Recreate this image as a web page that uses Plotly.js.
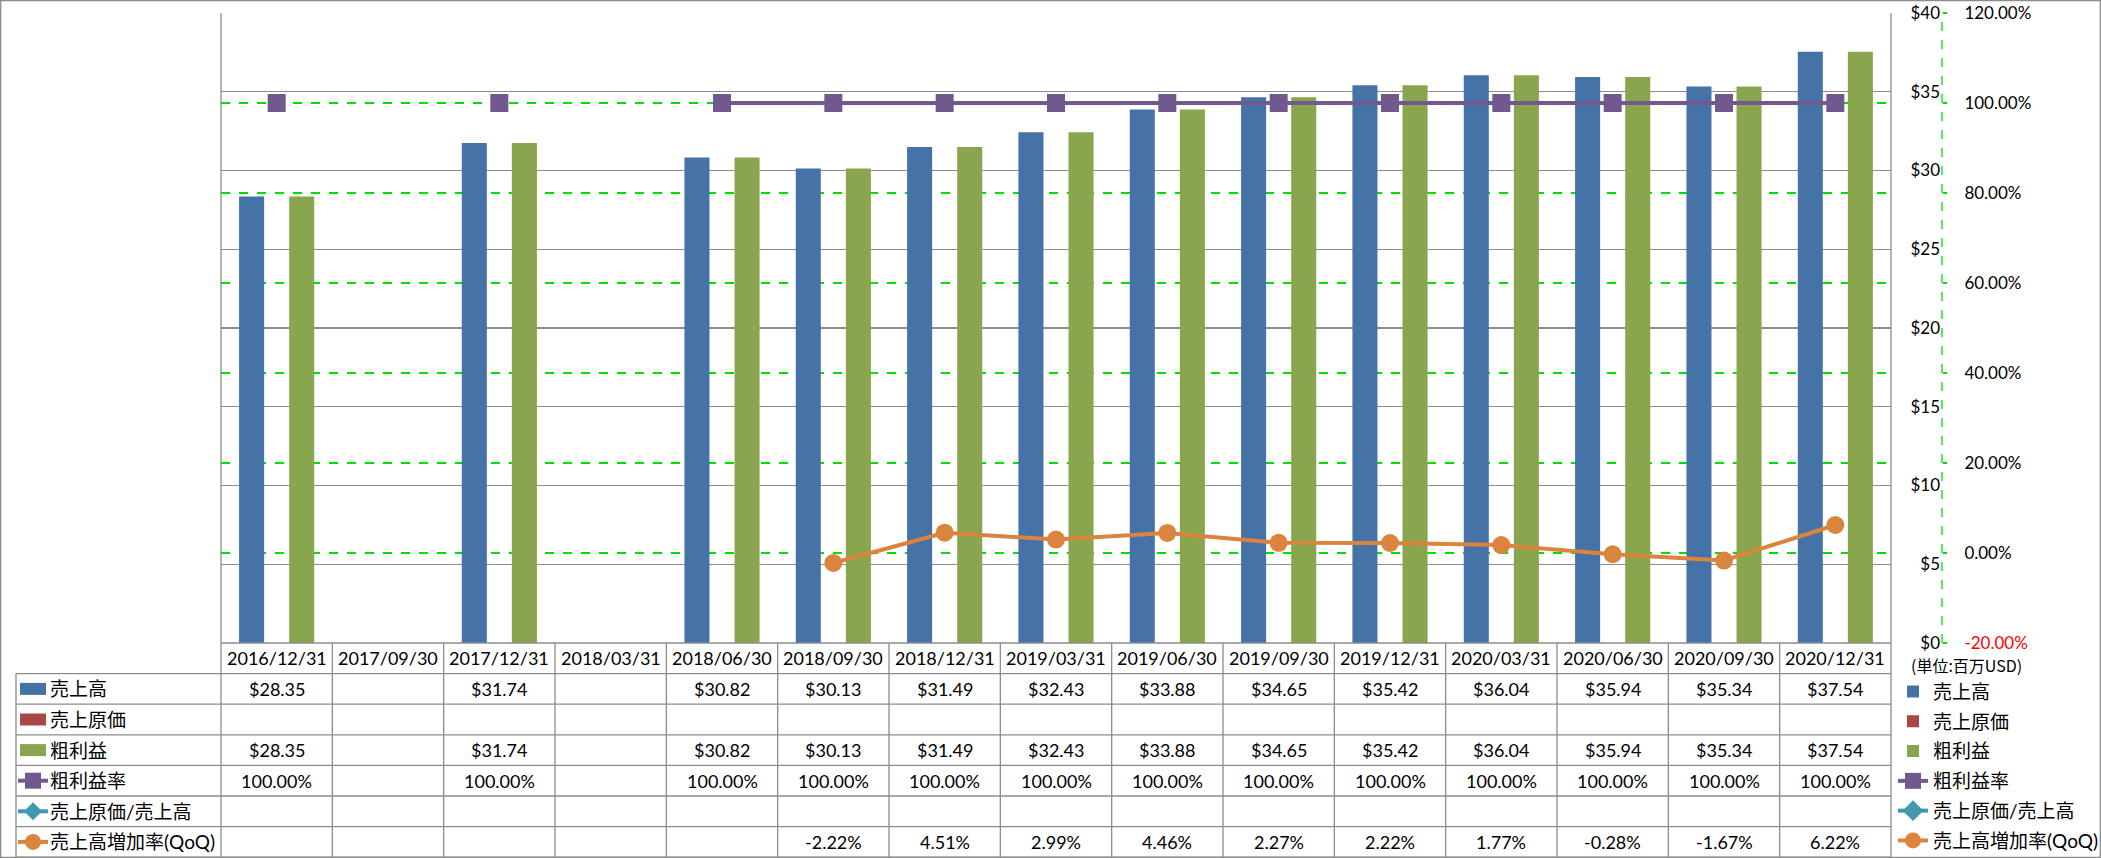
<!DOCTYPE html>
<html>
<head>
<meta charset="utf-8">
<script src="https://cdn.plot.ly/plotly-3.0.1.min.js"></script>
<style>
html,body{margin:0;padding:0;background:#fff;}
#chart{width:2101px;height:858px;}
</style>
</head>
<body>
<div id="chart"></div>
<script>
// ---------- DATA ----------
const categories = ["2016/12/31","2017/09/30","2017/12/31","2018/03/31","2018/06/30","2018/09/30","2018/12/31","2019/03/31","2019/06/30","2019/09/30","2019/12/31","2020/03/31","2020/06/30","2020/09/30","2020/12/31"];
const revenue      = [28.35, null, 31.74, null, 30.82, 30.13, 31.49, 32.43, 33.88, 34.65, 35.42, 36.04, 35.94, 35.34, 37.54];
const costOfSales  = [null, null, null, null, null, null, null, null, null, null, null, null, null, null, null];
const grossProfit  = [28.35, null, 31.74, null, 30.82, 30.13, 31.49, 32.43, 33.88, 34.65, 35.42, 36.04, 35.94, 35.34, 37.54];
const grossMargin  = [100, null, 100, null, 100, 100, 100, 100, 100, 100, 100, 100, 100, 100, 100];
const costRatio    = [null, null, null, null, null, null, null, null, null, null, null, null, null, null, null];
const revenueQoQ   = [null, null, null, null, null, -2.22, 4.51, 2.99, 4.46, 2.27, 2.22, 1.77, -0.28, -1.67, 6.22];
const usdTicks     = [0, 5, 10, 15, 20, 25, 30, 35, 40];
const pctTicks     = [-20, 0, 20, 40, 60, 80, 100, 120];
const seriesNames  = ["売上高", "売上原価", "粗利益", "粗利益率", "売上原価/売上高", "売上高増加率(QoQ)"];
const unitLabel    = "(単位:百万USD)";

// ---------- STYLE / GEOMETRY ----------
const W = 2101, H = 858;
const PL = 221, PT = 13, PW = 1670, PH = 630, MR = 10;
const paperW = W - PL - MR;
const domX = PW / paperW;
const px = v => (v - PL) / paperW;          // pixel x -> paper x
const py = v => (PT + PH - v) / PH;         // pixel y -> paper y
const axisX = px(1942);
const ROWH = 30.6;
const rowTop = k => PT + PH + k * ROWH;     // pixel y of row boundary k
const rowMid = k => py(rowTop(k) + ROWH / 2);

const colors = ["#4572A7", "#AA4643", "#89A54E", "#71588F", "#4198AF", "#DB843D"];
const gridGray = "#8c8c8c";
const green = "#00e000";
const FONT = 'Lato, "Noto Sans CJK JP", sans-serif';
const CJK = '"Noto Sans CJK JP", Lato, sans-serif';

// ---------- TRACES ----------
const barW = 0.225;
const traces = [
  {type:"bar", name:seriesNames[0], x:categories, y:revenue, yaxis:"y", width:barW, offset:-0.3375,
   marker:{color:colors[0]}, legendgroup:"a", hoverinfo:"skip"},
  {type:"bar", name:seriesNames[1], x:categories, y:costOfSales, yaxis:"y", width:barW, offset:-0.1125,
   marker:{color:colors[1]}, legendgroup:"b", hoverinfo:"skip"},
  {type:"bar", name:seriesNames[2], x:categories, y:grossProfit, yaxis:"y", width:barW, offset:0.1125,
   marker:{color:colors[2]}, legendgroup:"c", hoverinfo:"skip"},
  {type:"scatter", mode:"lines+markers", name:seriesNames[3], x:categories, y:grossMargin, yaxis:"y2",
   line:{color:colors[3], width:4}, marker:{symbol:"square", size:18, color:colors[3]},
   connectgaps:false, legendgroup:"d", hoverinfo:"skip", cliponaxis:false},
  {type:"scatter", mode:"lines+markers", name:seriesNames[4], x:categories, y:costRatio, yaxis:"y2",
   line:{color:colors[4], width:4}, marker:{symbol:"diamond", size:17, color:colors[4]},
   legendgroup:"e", hoverinfo:"skip"},
  {type:"scatter", mode:"lines+markers", name:seriesNames[5], x:categories, y:revenueQoQ, yaxis:"y2",
   line:{color:colors[5], width:4}, marker:{symbol:"circle", size:18, color:colors[5]},
   connectgaps:false, legendgroup:"f", hoverinfo:"skip", cliponaxis:false}
];

// ---------- TABLE (shapes + annotations) ----------
const shapes = [];
const annotations = [];
const lineStyle = {color:gridGray, width:1.3};
const bottomY = py(rowTop(7));

// outer border
shapes.push({type:"rect", xref:"paper", yref:"paper", x0:px(0.7), x1:px(W-0.7), y0:py(0.7), y1:py(H-0.7),
  line:{color:"#8c8c8c", width:1.3}, layer:"above"});
// plot left / right edges extending through table
shapes.push({type:"line", xref:"paper", yref:"paper", x0:0, x1:0, y0:1, y1:bottomY, line:lineStyle});
shapes.push({type:"line", xref:"paper", yref:"paper", x0:domX, x1:domX, y0:1, y1:bottomY, line:lineStyle});
// column separators inside table
for (let i = 0; i < categories.length - 1; i++) {
  shapes.push({type:"line", xref:"x", yref:"paper", x0:i + 0.5, x1:i + 0.5, y0:0, y1:bottomY, line:lineStyle});
}
// row-label column left edge
shapes.push({type:"line", xref:"paper", yref:"paper", x0:px(16), x1:px(16), y0:py(rowTop(1)), y1:bottomY, line:lineStyle});
// horizontal row lines
shapes.push({type:"line", xref:"paper", yref:"paper", x0:0, x1:domX, y0:0, y1:0, line:lineStyle});
for (let k = 1; k <= 7; k++) {
  shapes.push({type:"line", xref:"paper", yref:"paper", x0:px(16), x1:domX, y0:py(rowTop(k)), y1:py(rowTop(k)), line:lineStyle});
}
// secondary axis dashed line
shapes.push({type:"line", xref:"paper", yref:"paper", x0:axisX, x1:axisX, y0:0, y1:1,
  line:{color:green, width:1.3, dash:"dash"}});

// header categories
categories.forEach((c, i) => {
  annotations.push({xref:"x", yref:"paper", x:i, y:rowMid(0), text:c, showarrow:false,
    xanchor:"center", yanchor:"middle", font:{family:FONT, size:18, color:"#000"}});
});
// cell values
const rows = [
  {vals:revenue, fmt:v => "$" + v.toFixed(2)},
  {vals:costOfSales, fmt:v => "$" + v.toFixed(2)},
  {vals:grossProfit, fmt:v => "$" + v.toFixed(2)},
  {vals:grossMargin, fmt:v => v.toFixed(2) + "%"},
  {vals:costRatio, fmt:v => v.toFixed(2) + "%"},
  {vals:revenueQoQ, fmt:v => v.toFixed(2) + "%"}
];
rows.forEach((r, k) => {
  r.vals.forEach((v, i) => {
    if (v === null) return;
    annotations.push({xref:"x", yref:"paper", x:i, y:rowMid(k + 1), text:r.fmt(v), showarrow:false,
      xanchor:"center", yanchor:"middle", font:{family:FONT, size:18, color:"#000"}});
  });
  // row header label
  annotations.push({xref:"paper", yref:"paper", x:px(48), y:rowMid(k + 1), text:seriesNames[k], showarrow:false,
    xanchor:"left", yanchor:"middle", font:{family:FONT, size:19, color:"#000"}});
  // row header icon
  const cy = rowTop(k + 1) + ROWH / 2;
  if (k < 3) {
    shapes.push({type:"rect", xref:"paper", yref:"paper", x0:px(20), x1:px(46), y0:py(cy - 6), y1:py(cy + 6),
      fillcolor:colors[k], line:{width:0}});
  } else {
    shapes.push({type:"line", xref:"paper", yref:"paper", x0:px(18), x1:px(48), y0:py(cy), y1:py(cy),
      line:{color:colors[k], width:4}});
    const cx = 33, s = 8;
    if (k === 3) {
      shapes.push({type:"rect", xref:"paper", yref:"paper", x0:px(cx - s), x1:px(cx + s), y0:py(cy - s), y1:py(cy + s),
        fillcolor:colors[k], line:{width:0}});
    } else if (k === 4) {
      shapes.push({type:"path", xref:"paper", yref:"paper",
        path:`M ${px(cx)} ${py(cy - s - 1)} L ${px(cx + s + 1)} ${py(cy)} L ${px(cx)} ${py(cy + s + 1)} L ${px(cx - s - 1)} ${py(cy)} Z`,
        fillcolor:colors[k], line:{width:0}});
    } else {
      shapes.push({type:"circle", xref:"paper", yref:"paper", x0:px(cx - s), x1:px(cx + s), y0:py(cy - s), y1:py(cy + s),
        fillcolor:colors[k], line:{width:0}});
    }
  }
});
// unit label
annotations.push({xref:"paper", yref:"paper", x:px(1966), y:py(665), text:unitLabel, showarrow:false,
  xanchor:"center", yanchor:"middle", font:{family:CJK, size:16, color:"#000"}});

// ---------- LAYOUT ----------
const layout = {
  width:W, height:H,
  margin:{l:PL, r:MR, t:PT, b:H - PT - PH, pad:0, autoexpand:false},
  paper_bgcolor:"#fff", plot_bgcolor:"rgba(0,0,0,0)",
  font:{family:FONT, size:17, color:"#000"},
  barmode:"overlay",
  showlegend:true,
  legend:{x:px(1893), xanchor:"left", y:py(rowTop(1) - 1), yanchor:"top", bgcolor:"rgba(0,0,0,0)",
    font:{family:FONT, size:19, color:"#000"}, tracegroupgap:2.1, traceorder:"grouped", itemwidth:30},
  xaxis:{type:"category", domain:[0, domX], range:[-0.5, categories.length - 0.5], showticklabels:false,
    showgrid:false, zeroline:false, showline:false, ticks:"", fixedrange:true, automargin:false},
  yaxis:{range:[0, 40], anchor:"free", position:axisX, side:"left", tickvals:usdTicks,
    ticktext:usdTicks.map(v => "$" + v), showgrid:true, gridcolor:gridGray, gridwidth:1.3,
    zeroline:false, showline:false, ticks:"", ticklabelstandoff:2, automargin:false,
    tickfont:{family:FONT, size:17, color:"#000"}},
  yaxis2:{range:[-20, 120], overlaying:"y", anchor:"free", position:axisX, side:"right", tickvals:pctTicks,
    ticktext:pctTicks.map(v => v < 0 ? '<span style="color:#ff0000">' + v.toFixed(2) + '%</span>' : v.toFixed(2) + "%"),
    showgrid:true, gridcolor:green, gridwidth:1.3, griddash:"dash", zeroline:false, showline:false,
    ticks:"outside", ticklen:4, tickwidth:1.3, tickcolor:green, ticklabelstandoff:14, automargin:false,
    tickfont:{family:FONT, size:17, color:"#000"}},
  shapes:shapes,
  annotations:annotations
};

Plotly.newPlot("chart", traces, layout, {staticPlot:true, displayModeBar:false});
</script>
</body>
</html>
